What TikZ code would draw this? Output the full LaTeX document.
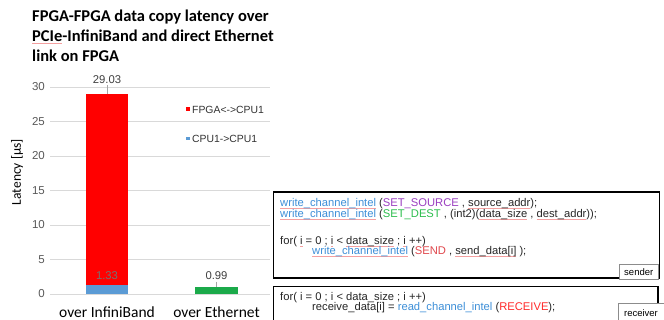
\documentclass[tikz,border=0pt]{standalone}
\usepackage{fontspec}
\setmainfont{Liberation Sans}
\newfontfamily\calib{Carlito}
\definecolor{gridc}{HTML}{D9D9D9}
\definecolor{tickc}{HTML}{595959}
\definecolor{barred}{HTML}{FF0000}
\definecolor{barblue}{HTML}{5B9BD5}
\definecolor{bargreen}{HTML}{1BAA4A}
\definecolor{fnblue}{HTML}{3D8FD8}
\definecolor{kwpurple}{HTML}{9A3EC0}
\definecolor{kwgreen}{HTML}{2DBE4E}
\definecolor{kwred}{HTML}{E0474C}
\definecolor{kwred2}{HTML}{FF2A2A}
\definecolor{squig}{HTML}{F4A0A0}
\newsavebox\sqbox
\newcommand\sqx[1]{\sbox\sqbox{#1}\rlap{\textcolor{squig}{\rule[-1.8pt]{\wd\sqbox}{0.7pt}}}\usebox\sqbox}
\tikzset{
  tick/.style={font=\fontsize{11.5}{13}\selectfont, text=tickc, anchor=east, inner sep=0pt},
  grid line/.style={draw=gridc, line width=0.6pt},
  datalbl/.style={font=\fontsize{11.3}{13}\selectfont, text=black!75, inner sep=0pt},
  leglbl/.style={font=\fontsize{10.4}{12}\selectfont, text=black!80, anchor=west, inner sep=0pt},
  codeline/.style={font=\fontsize{11.2}{13}\selectfont, text=black!85, anchor=base west, inner sep=0pt},
  codebox/.style={draw=black, line width=1.4pt},
  tagbox/.style={draw=black!45, fill=white, line width=0.5pt, font=\fontsize{9.5}{11}\selectfont, inner sep=0pt, anchor=north west},
  titleline/.style={font=\calib\bfseries\fontsize{16.5}{18}\selectfont, anchor=base west, inner sep=0pt},
  xlbl/.style={font=\calib\fontsize{15.5}{17}\selectfont, anchor=base, inner sep=0pt}
}
\begin{document}
\begin{tikzpicture}[x=1pt,y=-1pt]
\useasboundingbox (0,0) rectangle (664,320);
\clip (0,0) rectangle (664,320);
\fill[white] (0,0) rectangle (664,320);
% title
\node[titleline] (t1) at (32,22) {FPGA-FPGA data copy latency over};
\node[titleline] (t2) at (32,42) {\sqx{PCIe}-InfiniBand and direct Ethernet};
\node[titleline] (t3) at (32,61.5) {link on FPGA};
% grid
\foreach \v/\nm in {0/g0,5/g5,10/g10,15/g15,20/g20,25/g25,30/g30}{
  \draw[grid line] (50,{294-6.9*\v}) -- (270,{294-6.9*\v});
  \node[tick] (\nm) at (45,{294-6.9*\v}) {\v};
}
% y label
\node[font=\calib\fontsize{13.5}{15}\selectfont, rotate=90, inner sep=0pt] (ylab) at (17,172) {Latency [µs]};
% bars
\fill[barred] (86,{294-6.9*29.03}) rectangle (128,{294-6.9*1.33});
\fill[barblue] (86,{294-6.9*1.33}) rectangle (128,294);
\fill[bargreen] (195,{294-6.9*0.99}) rectangle (238,294);
\coordinate (b1top) at (107,{294-6.9*29.03});
\coordinate (b2top) at (216.5,{294-6.9*0.99});
\node[datalbl] (l1) at (107,79.5) {29.03};
\node[datalbl, text=black!55] (l2) at (107,275.5) {1.33};
\node[datalbl] (l3) at (216.5,276) {0.99};
\draw[black!35, line width=0.4pt] ([yshift=-1.5pt]l1.south) -- (b1top);
\draw[black!35, line width=0.4pt] ([yshift=-1.5pt]l3.south) -- (b2top);
% legend
\fill[barred] (186,107.5) rectangle (189.5,111);
\node[leglbl] (lg1) at (192,109.5) {FPGA<->CPU1};
\fill[barblue] (186,137) rectangle (189.5,140.5);
\node[leglbl] (lg2) at (192,139) {CPU1->CPU1};
% x labels
\node[xlbl] (x1) at (107,317.5) {over InfiniBand};
\node[xlbl] (x2) at (216.5,317.5) {over Ethernet};
% sender box
\draw[codebox] (273.5,192) rectangle (659.5,278);
\node[codeline] (c1) at (280,207) {\sqx{\textcolor{fnblue}{write\_channel\_intel}} (\textcolor{kwpurple}{SET\_SOURCE} , \sqx{source\_addr});};
\node[codeline] (c2) at (280,217.5) {\sqx{\textcolor{fnblue}{write\_channel\_intel}} (\textcolor{kwgreen}{SET\_DEST} , (int2)(\sqx{data\_size} , \sqx{dest\_addr}));};
\node[codeline] (c3) at (280,244.5) {for( \sqx{i} = 0 ; \sqx{i} < \sqx{data\_size} ; \sqx{i} ++)};
\node[codeline] (c4) at (312,255) {\sqx{\textcolor{fnblue}{write\_channel\_intel}} (\textcolor{kwred}{SEND} , \sqx{send\_data[i]} );};
\node[tagbox, minimum width=39pt, minimum height=15pt] (tag1) at (619,264) {sender};
% receiver box
\draw[codebox] (273.5,286.5) rectangle (658,330);
\node[codeline] (d1) at (280,300.5) {for( i = 0 ; i < data\_size ; i ++)};
\node[codeline] (d2) at (312,311) {receive\_data[i] = \textcolor{fnblue}{read\_channel\_intel} (\textcolor{kwred2}{RECEIVE});};
\node[tagbox, minimum width=46pt, minimum height=20pt] (tag2) at (618,303) {};
\node[font=\fontsize{9.5}{11}\selectfont, anchor=north, inner sep=0pt] (tag2t) at (641,309) {receiver};
\end{tikzpicture}
\end{document}
